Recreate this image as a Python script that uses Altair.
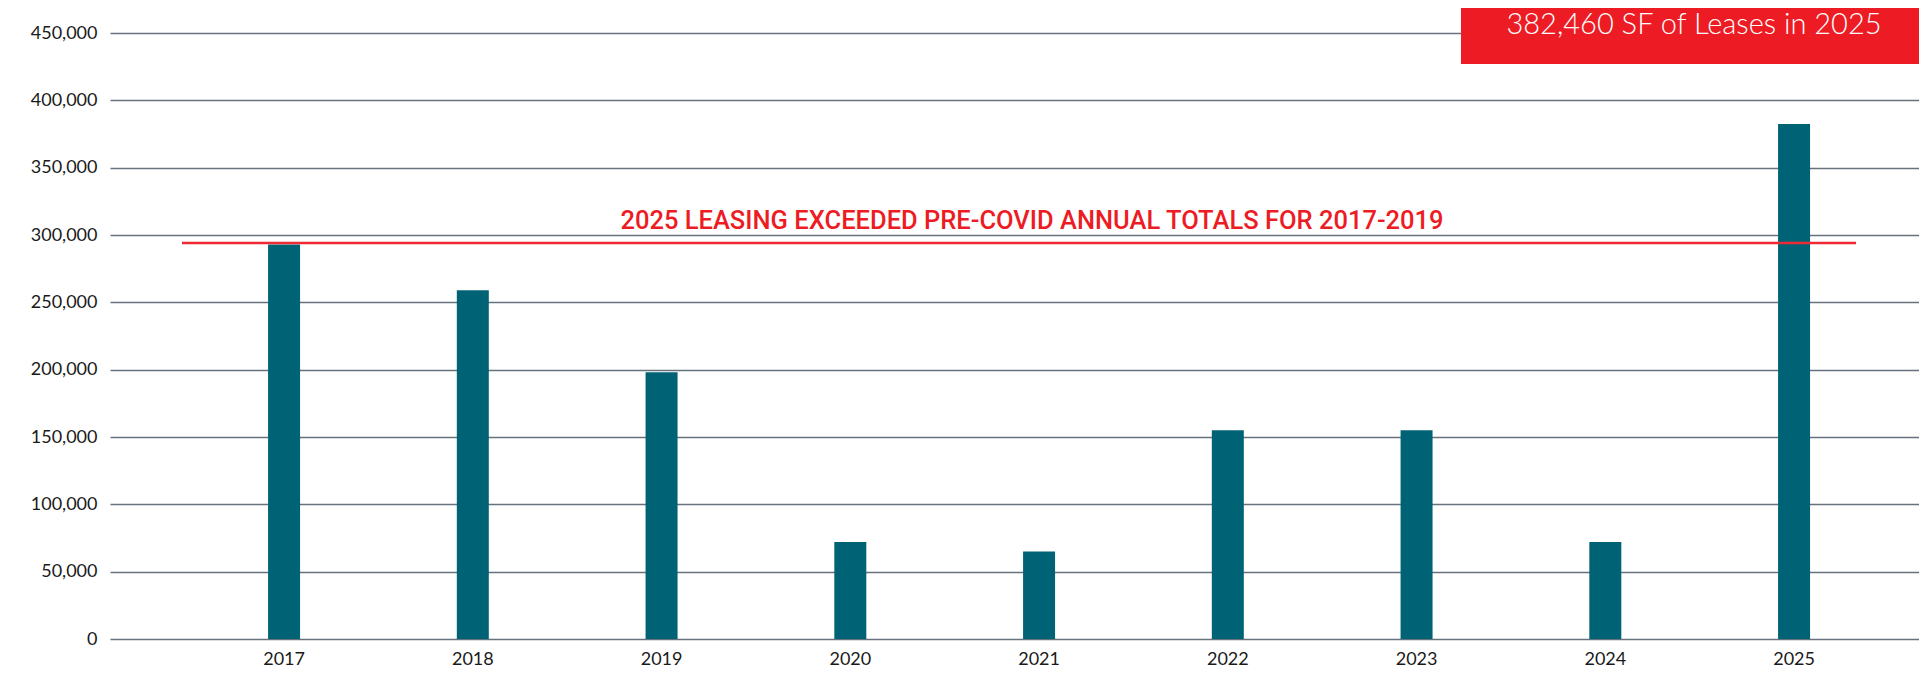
import altair as alt
import pandas as pd

# ---- data ----
years = ["2017", "2018", "2019", "2020", "2021", "2022", "2023", "2024", "2025"]
leased_sf = [293000, 259000, 198000, 72000, 65000, 155000, 155000, 72000, 382460]
y_ticks = [0, 50000, 100000, 150000, 200000, 250000, 300000, 350000, 400000, 450000]
precovid_level = 294000
line_label = "2025 LEASING EXCEEDED PRE-COVID ANNUAL TOTALS FOR 2017-2019"
box_label = "382,460 SF of Leases in 2025"

df = pd.DataFrame({"year": years, "sf": leased_sf})

W, H = 1809, 606
BAR = "#006375"
RED = "#ED1C24"
FONT = "Lato"

x_enc = alt.X(
    "year:N",
    sort=years,
    scale=alt.Scale(paddingInner=0.8305, paddingOuter=0.7073, align=0.592),
    axis=alt.Axis(title=None, labelAngle=0, domain=False, ticks=False, grid=False,
                  labelFont=FONT, labelFontSize=18, labelColor="#1a1a1a",
                  labelPadding=11),
)
y_enc = alt.Y(
    "sf:Q",
    scale=alt.Scale(domain=[0, 450000], nice=False),
    axis=alt.Axis(title=None, values=y_ticks, format=",d", domain=False, ticks=False,
                  grid=True, gridColor="#66737e", gridWidth=1.6,
                  labelFont=FONT, labelFontSize=18, labelColor="#1a1a1a",
                  labelPadding=13),
)

bars = alt.Chart(df).mark_bar(color=BAR).encode(x=x_enc, y=y_enc)

ref_line = alt.Chart(df).mark_rule(color="#EE2A35", strokeWidth=2.5).encode(
    x=alt.value(72), x2=alt.value(1746), y=alt.datum(precovid_level)
).transform_filter(alt.datum.year == "2017")

ref_text = alt.Chart(df).mark_text(
    text=line_label, color=RED, font="Roboto", fontSize=25.5,
    fontWeight=500, align="center", baseline="middle", dy=-22
).encode(x=alt.value(922), y=alt.datum(precovid_level)).transform_filter(alt.datum.year == "2017")

box = alt.Chart(df).mark_rect(color=RED).encode(
    x=alt.value(1351), x2=alt.value(W), y=alt.value(-25), y2=alt.value(31)
).transform_filter(alt.datum.year == "2025")

box_text = alt.Chart(df).mark_text(
    text=box_label, color="white", font=FONT, fontSize=29, fontWeight=300,
    align="center", baseline="alphabetic"
).encode(x=alt.value(1584), y=alt.value(1)).transform_filter(alt.datum.year == "2025")

chart = alt.layer(bars, ref_line, ref_text, box, box_text).properties(
    width=W, height=H,
    autosize=alt.AutoSizeParams(type="none"),
    padding={"left": 102, "top": 25, "right": 0, "bottom": 30},
).configure_view(stroke=None)

chart.save("out.html", embed_options={"renderer": "svg", "actions": False})
